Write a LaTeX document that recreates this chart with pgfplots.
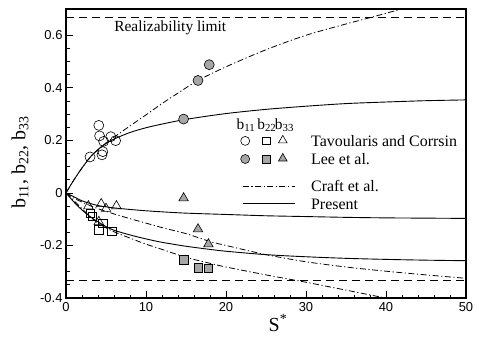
\documentclass[border=0pt]{standalone}
\usepackage{fontspec}
\setmainfont{Liberation Serif}
\setsansfont{Liberation Sans}
\usepackage{pgfplots}
\pgfplotsset{compat=1.18}
\usetikzlibrary{calc}

\pgfplotstableread{
S b
0 0
1 0.05
2 0.095
3 0.135
4 0.165
5 0.188
6 0.205
8 0.23
10 0.248
12 0.262
15 0.28
20 0.302
25 0.318
30 0.33
35 0.34
40 0.346
45 0.351
50 0.354
}\presentA
\pgfplotstableread{
S b
0 -0.0
1 -0.035
2 -0.065
3 -0.09
4 -0.11
5 -0.128
6 -0.142
8 -0.16
10 -0.175
12 -0.188
15 -0.203
18 -0.215
20 -0.222
25 -0.235
30 -0.243
35 -0.249
40 -0.253
45 -0.256
50 -0.258
}\presentB
\pgfplotstableread{
S b
0 0
1 -0.015
2 -0.03
3 -0.04
4 -0.048
5 -0.053
6 -0.057
8 -0.063
10 -0.068
12 -0.072
15 -0.077
20 -0.082
25 -0.087
30 -0.09
35 -0.093
40 -0.095
45 -0.096
50 -0.097
}\presentC
\pgfplotstableread{
S b
0 0
1 0.05
2 0.095
3 0.135
4 0.165
5 0.19
6 0.212
8 0.255
10 0.297
12 0.34
14 0.38
16.5 0.428
20 0.48
25 0.545
30 0.6
35 0.643
38 0.667
42 0.7
50 0.76
}\craftA
\pgfplotstableread{
S b
0 0
1 -0.03
2 -0.06
3 -0.09
4 -0.115
5 -0.133
6 -0.148
8 -0.172
10 -0.195
12 -0.215
15 -0.245
18 -0.268
20 -0.282
25 -0.312
30 -0.34
35 -0.37
40 -0.4
45 -0.425
50 -0.45
}\craftB
\pgfplotstableread{
S b
0 0
1 -0.02
2 -0.035
3 -0.048
4 -0.06
5 -0.07
6 -0.08
8 -0.098
10 -0.115
12 -0.132
15 -0.155
18 -0.185
20 -0.2
25 -0.235
30 -0.262
35 -0.282
40 -0.298
45 -0.312
50 -0.325
}\craftC

\tikzset{dashdot/.style={dash pattern=on 6bp off 2.5bp on 1.2bp off 2.5bp}}

\begin{document}
\begin{tikzpicture}
\begin{axis}[
  name=ax,
  scale only axis,
  width=400bp, height=289bp,
  xmin=0, xmax=50, ymin=-0.4, ymax=0.7,
  xtick={0,10,20,30,40,50},
  ytick={-0.4,-0.2,0,0.2,0.4,0.6},
  yticklabels={-0.4,-0.2,0,0.2,0.4,0.6},
  minor x tick num=4,
  minor y tick num=3,
  xtick pos=bottom, ytick pos=left,
  tick align=inside,
  major tick length=7bp, minor tick length=3.5bp,
  every tick/.style={black, line width=0.8bp},
  axis line style={line width=1.3bp},
  /pgf/number format/assume math mode=true,
  ticklabel style={font=\sffamily\fontsize{13}{13}\selectfont},
  xticklabel style={yshift=-1bp},
  xlabel={S\textsuperscript{*}},
  ylabel={b\textsubscript{11}, b\textsubscript{22}, b\textsubscript{33}},
  label style={font=\fontsize{20}{20}\selectfont},
  xlabel style={at={(axis description cs:0.53,0)}, anchor=north, yshift=-13bp},
  ylabel style={at={(axis description cs:-0.115,0.47)}, anchor=center, rotate=0},
  clip=true,
]
% realizability limits
\addplot[black, line width=1.1bp, dash pattern=on 8bp off 5bp] coordinates {(0,0.6667) (50,0.6667)};
\addplot[black, line width=1.1bp, dash pattern=on 8bp off 5bp] coordinates {(0,-0.3333) (50,-0.3333)};
% model curves
\addplot[black, line width=0.8bp, dashdot, smooth] table[x=S,y=b] {\craftA};
\addplot[black, line width=0.8bp, dashdot, smooth] table[x=S,y=b] {\craftB};
\addplot[black, line width=0.8bp, dashdot, smooth] table[x=S,y=b] {\craftC};
\addplot[black, line width=0.9bp, smooth] table[x=S,y=b] {\presentA};
\addplot[black, line width=0.9bp, smooth] table[x=S,y=b] {\presentB};
\addplot[black, line width=0.9bp, smooth] table[x=S,y=b] {\presentC};
% Tavoularis and Corrsin
\addplot[only marks, mark=o, mark size=5bp, mark options={black, line width=0.6bp}] coordinates {
 (3.0,0.137) (4.1,0.257) (4.2,0.217) (4.7,0.196) (4.6,0.157) (4.5,0.145) (5.6,0.214) (6.2,0.199)};
\addplot[only marks, mark=square, mark size=4.2bp, mark options={black, line width=0.6bp}] coordinates {
 (3.0,-0.077) (3.3,-0.09) (4.1,-0.14) (4.6,-0.115) (5.7,-0.146)};
\addplot[only marks, mark=triangle, mark size=5.5bp, mark options={black, line width=0.6bp}] coordinates {
 (2.8,-0.05) (4.4,-0.042) (5.0,-0.06) (6.3,-0.05) (4.1,-0.11)};
% Lee et al.
\addplot[only marks, mark=*, mark size=5bp, mark options={draw=black, fill=black!35, line width=0.6bp}] coordinates {
 (14.7,0.281) (16.5,0.428) (17.9,0.488)};
\addplot[only marks, mark=square*, mark size=4.2bp, mark options={draw=black, fill=black!35, line width=0.6bp}] coordinates {
 (14.7,-0.255) (16.5,-0.285) (17.8,-0.288)};
\addplot[only marks, mark=triangle*, mark size=5.5bp, mark options={draw=black, fill=black!35, line width=0.6bp}] coordinates {
 (14.7,-0.02) (16.5,-0.138) (17.8,-0.195)};
% legend samples (drawn in axis coordinates)
\addplot[only marks, mark=o, mark size=4.5bp, mark options={black, line width=0.6bp}] coordinates {(22.4,0.198)};
\addplot[only marks, mark=square, mark size=3.8bp, mark options={black, line width=0.6bp}] coordinates {(25.0,0.198)};
\addplot[only marks, mark=triangle, mark size=5bp, mark options={black, line width=0.6bp}] coordinates {(27.1,0.200)};
\addplot[only marks, mark=*, mark size=4.5bp, mark options={draw=black, fill=black!35, line width=0.6bp}] coordinates {(22.4,0.129)};
\addplot[only marks, mark=square*, mark size=3.8bp, mark options={draw=black, fill=black!35, line width=0.6bp}] coordinates {(25.0,0.129)};
\addplot[only marks, mark=triangle*, mark size=5bp, mark options={draw=black, fill=black!35, line width=0.6bp}] coordinates {(27.1,0.131)};
\addplot[black, line width=0.8bp, dashdot] coordinates {(22.1,0.026) (28.6,0.026)};
\addplot[black, line width=0.9bp] coordinates {(22.1,-0.042) (28.6,-0.042)};
% texts
\node[anchor=west, font=\fontsize{15.5}{15.5}\selectfont] at (axis cs:5.6,0.628) {Realizability limit};
\node[anchor=center, font=\fontsize{15.5}{15.5}\selectfont] at (axis cs:22.5,0.258) {b\textsubscript{11}};
\node[anchor=center, font=\fontsize{15.5}{15.5}\selectfont] at (axis cs:25.1,0.258) {b\textsubscript{22}};
\node[anchor=center, font=\fontsize{15.5}{15.5}\selectfont] at (axis cs:27.3,0.258) {b\textsubscript{33}};
\node[anchor=west, font=\fontsize{16}{16}\selectfont] at (axis cs:30.2,0.198) {Tavoularis and Corrsin};
\node[anchor=west, font=\fontsize{16}{16}\selectfont] at (axis cs:30.2,0.129) {Lee et al.};
\node[anchor=west, font=\fontsize{16}{16}\selectfont] at (axis cs:30.2,0.026) {Craft et al.};
\node[anchor=west, font=\fontsize{16}{16}\selectfont] at (axis cs:30.2,-0.042) {Present};
\coordinate (SW) at (rel axis cs:0,0);
\coordinate (NE) at (rel axis cs:1,1);
\end{axis}
\pgfresetboundingbox
\path[use as bounding box] ($(SW)+(-66bp,-39bp)$) rectangle ($(NE)+(13bp,9bp)$);
\end{tikzpicture}
\end{document}
